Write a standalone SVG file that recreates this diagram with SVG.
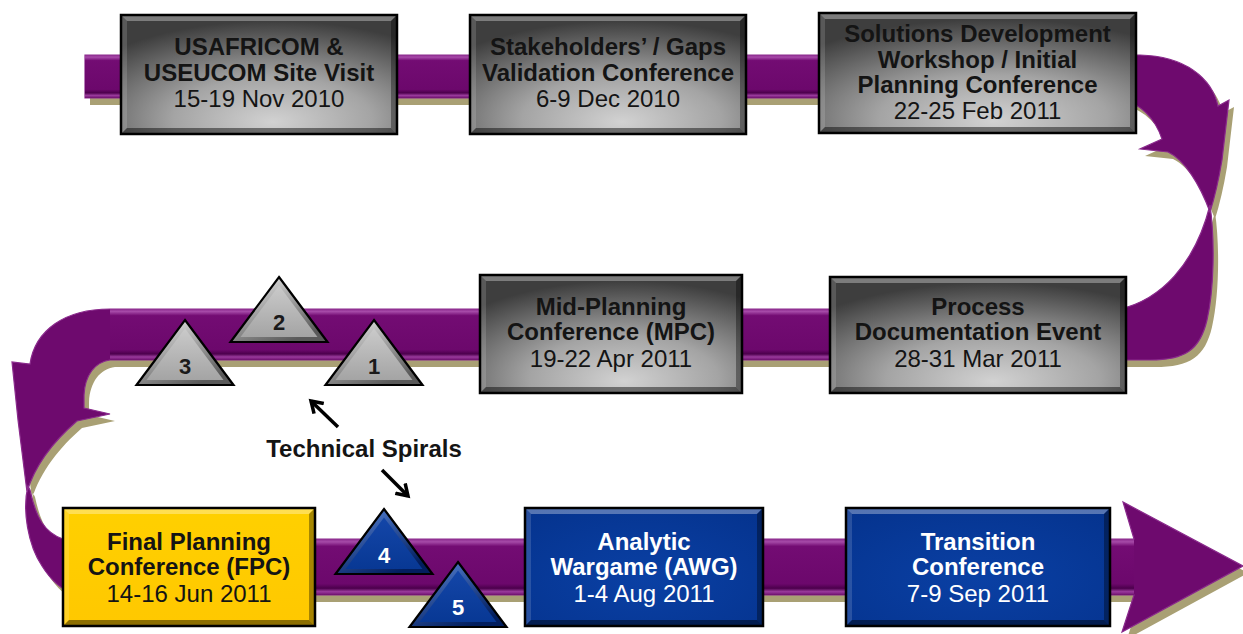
<svg xmlns="http://www.w3.org/2000/svg" xmlns:xlink="http://www.w3.org/1999/xlink" width="1243" height="634" viewBox="0 0 1243 634">
<defs>
<style>
.t{font-family:"Liberation Sans",Arial,sans-serif;font-size:24px;text-anchor:middle;fill:#141414}
.b{font-weight:bold}
.num{font-family:"Liberation Sans",Arial,sans-serif;font-size:22px;font-weight:bold;text-anchor:middle;fill:#1a1a1a}
.w{fill:#ffffff}
.frame{fill:none;stroke:#000;stroke-width:2.5}
.bt{fill:#fff;fill-opacity:.32}
.bl{fill:#fff;fill-opacity:.14}
.br{fill:#000;fill-opacity:.35}
.bb{fill:#000;fill-opacity:.45}
.ann{stroke:#000;stroke-width:3.5;fill:none}
</style>
<radialGradient id="gGray" cx="55%" cy="85%" r="80%" fx="55%" fy="90%">
<stop offset="0" stop-color="#d2d2d2"/>
<stop offset="0.45" stop-color="#a4a4a4"/>
<stop offset="1" stop-color="#3e3e3e"/>
</radialGradient>
<linearGradient id="gYellow" x1="0" y1="0" x2="0" y2="1">
<stop offset="0" stop-color="#ffd000"/>
<stop offset="1" stop-color="#ffc800"/>
</linearGradient>
<radialGradient id="gBlue" cx="50%" cy="60%" r="75%">
<stop offset="0" stop-color="#0a40a4"/>
<stop offset="1" stop-color="#05338e"/>
</radialGradient>
<linearGradient id="gBand" x1="0" y1="0" x2="0" y2="1">
<stop offset="0" stop-color="#8c2a8e"/>
<stop offset="0.05" stop-color="#a64aa8"/>
<stop offset="0.13" stop-color="#730c73"/>
<stop offset="0.8" stop-color="#6c086c"/>
<stop offset="0.88" stop-color="#4c004c"/>
<stop offset="0.94" stop-color="#9a3a9c"/>
<stop offset="1" stop-color="#6e106e"/>
</linearGradient>
<linearGradient id="gTriOutGray" x1="0" y1="0" x2="0.6" y2="1">
<stop offset="0" stop-color="#f2f2f2"/>
<stop offset="1" stop-color="#5a5a5a"/>
</linearGradient>
<linearGradient id="gTriInGray" x1="0" y1="0" x2="0" y2="1">
<stop offset="0" stop-color="#cacaca"/>
<stop offset="1" stop-color="#a4a4a4"/>
</linearGradient>
<linearGradient id="gTriOutBlue" x1="0" y1="0" x2="0.6" y2="1">
<stop offset="0" stop-color="#5a88dc"/>
<stop offset="1" stop-color="#021e5e"/>
</linearGradient>
<linearGradient id="gTriInBlue" x1="0" y1="0" x2="0" y2="1">
<stop offset="0" stop-color="#1446a8"/>
<stop offset="1" stop-color="#083894"/>
</linearGradient>
<g id="triGray">
<polygon points="0,0 48.5,65 -48.5,65" fill="url(#gTriOutGray)"/>
<polygon points="0,8.4 38.5,60 -38.5,60" fill="url(#gTriInGray)"/>
<polygon points="0,0 48.5,65 -48.5,65" fill="none" stroke="#000" stroke-width="2.2"/>
</g>
<g id="triBlue">
<polygon points="0,0 48.5,65 -48.5,65" fill="url(#gTriOutBlue)"/>
<polygon points="0,8.4 38.5,60 -38.5,60" fill="url(#gTriInBlue)"/>
<polygon points="0,0 48.5,65 -48.5,65" fill="none" stroke="#000" stroke-width="2.2"/>
</g>
<marker id="vhead" markerUnits="userSpaceOnUse" markerWidth="20" markerHeight="20" refX="12" refY="8" orient="auto" viewBox="0 0 20 16">
<path d="M1,1 L12,8 L1,15" fill="none" stroke="#000" stroke-width="3.5"/>
</marker>
</defs>

<g id="ribbon">
<path transform="translate(5,7)" fill="#a9a074" d="M85 55 L1140 55 C1185 56 1212 78 1218 106 L1229 100 L1222 160 Q1217 190 1210 212 C1200 185 1185 160 1168 152 L1140 149 L1162 139 C1155 118 1140 104 1120 98 L85 98 Z M1210 205 C1215 240 1214 290 1207 320 C1200 350 1185 360 1150 360 L110 360 C95 362 85 375 84 395 L84 408 L110 414 L77 421 C55 440 35 465 27 492 L18 420 L12 362 L30 364 C35 330 65 309 110 309 L1120 309 C1160 300 1195 265 1210 205 Z M28 486 C22 510 28 545 42 566 C52 582 62 590 75 595 L1134 595 L1122 632 L1243 566 L1123 502 L1134 539 L63 539 C45 533 36 518 30 490 Z"/>
<path fill="#6e0a6e" stroke="#8a2a8c" stroke-width="1.2" d="M85 55 L1140 55 C1185 56 1212 78 1218 106 L1229 100 L1222 160 Q1217 190 1210 212 C1200 185 1185 160 1168 152 L1140 149 L1162 139 C1155 118 1140 104 1120 98 L85 98 Z M1210 205 C1215 240 1214 290 1207 320 C1200 350 1185 360 1150 360 L110 360 C95 362 85 375 84 395 L84 408 L110 414 L77 421 C55 440 35 465 27 492 L18 420 L12 362 L30 364 C35 330 65 309 110 309 L1120 309 C1160 300 1195 265 1210 205 Z M28 486 C22 510 28 545 42 566 C52 582 62 590 75 595 L1134 595 L1122 632 L1243 566 L1123 502 L1134 539 L63 539 C45 533 36 518 30 490 Z"/>
<rect x="85" y="55" width="1051" height="43" fill="url(#gBand)"/>
<rect x="110" y="309" width="1016" height="51" fill="url(#gBand)"/>
<rect x="63" y="539" width="1071" height="56" fill="url(#gBand)"/>
</g>

<g id="box1" transform="translate(121,15)">
<rect width="276" height="119" fill="url(#gGray)"/>
<polygon class="bt" points="0,0 276,0 270,6 6,6"/><polygon class="bl" points="0,0 6,6 6,113 0,119"/><polygon class="br" points="276,0 276,119 270,113 270,6"/><polygon class="bb" points="0,119 6,113 270,113 276,119"/>
<rect class="frame" width="276" height="119"/>
<text class="t b" x="138" y="40">USAFRICOM &amp;</text>
<text class="t b" x="138" y="66">USEUCOM Site Visit</text>
<text class="t" x="138" y="92">15-19 Nov 2010</text>
</g>

<g id="box2" transform="translate(470,15)">
<rect width="276" height="119" fill="url(#gGray)"/>
<polygon class="bt" points="0,0 276,0 270,6 6,6"/><polygon class="bl" points="0,0 6,6 6,113 0,119"/><polygon class="br" points="276,0 276,119 270,113 270,6"/><polygon class="bb" points="0,119 6,113 270,113 276,119"/>
<rect class="frame" width="276" height="119"/>
<text class="t b" x="138" y="40">Stakeholders’ / Gaps</text>
<text class="t b" x="138" y="66">Validation Conference</text>
<text class="t" x="138" y="92">6-9 Dec 2010</text>
</g>

<g id="box3" transform="translate(819,13)">
<rect width="317" height="120" fill="url(#gGray)"/>
<polygon class="bt" points="0,0 317,0 311,6 6,6"/><polygon class="bl" points="0,0 6,6 6,114 0,120"/><polygon class="br" points="317,0 317,120 311,114 311,6"/><polygon class="bb" points="0,120 6,114 311,114 317,120"/>
<rect class="frame" width="317" height="120"/>
<text class="t b" x="158.5" y="28.5">Solutions Development</text>
<text class="t b" x="158.5" y="54.5">Workshop / Initial</text>
<text class="t b" x="158.5" y="79.5">Planning Conference</text>
<text class="t" x="158.5" y="105.5">22-25 Feb 2011</text>
</g>

<g id="box4" transform="translate(480,275)">
<rect width="262" height="118" fill="url(#gGray)"/>
<polygon class="bt" points="0,0 262,0 256,6 6,6"/><polygon class="bl" points="0,0 6,6 6,112 0,118"/><polygon class="br" points="262,0 262,118 256,112 256,6"/><polygon class="bb" points="0,118 6,112 256,112 262,118"/>
<rect class="frame" width="262" height="118"/>
<text class="t b" x="131" y="39.5">Mid-Planning</text>
<text class="t b" x="131" y="64.5">Conference (MPC)</text>
<text class="t" x="131" y="91.5">19-22 Apr 2011</text>
</g>

<g id="box5" transform="translate(830,277)">
<rect width="296" height="116" fill="url(#gGray)"/>
<polygon class="bt" points="0,0 296,0 290,6 6,6"/><polygon class="bl" points="0,0 6,6 6,110 0,116"/><polygon class="br" points="296,0 296,116 290,110 290,6"/><polygon class="bb" points="0,116 6,110 290,110 296,116"/>
<rect class="frame" width="296" height="116"/>
<text class="t b" x="148" y="37.5">Process</text>
<text class="t b" x="148" y="62.5">Documentation Event</text>
<text class="t" x="148" y="89.5">28-31 Mar 2011</text>
</g>

<g id="box6" transform="translate(63,508)">
<rect width="252" height="118" fill="url(#gYellow)"/>
<polygon class="bt" points="0,0 252,0 246,6 6,6"/><polygon class="bl" points="0,0 6,6 6,112 0,118"/><polygon class="br" points="252,0 252,118 246,112 246,6"/><polygon class="bb" points="0,118 6,112 246,112 252,118"/>
<rect class="frame" width="252" height="118"/>
<text class="t b" x="126" y="41.5">Final Planning</text>
<text class="t b" x="126" y="66.5">Conference (FPC)</text>
<text class="t" x="126" y="93.5">14-16 Jun 2011</text>
</g>

<g id="box7" transform="translate(525,508)">
<rect width="238" height="118" fill="url(#gBlue)"/>
<polygon class="bt" points="0,0 238,0 232,6 6,6"/><polygon class="bl" points="0,0 6,6 6,112 0,118"/><polygon class="br" points="238,0 238,118 232,112 232,6"/><polygon class="bb" points="0,118 6,112 232,112 238,118"/>
<rect class="frame" width="238" height="118"/>
<text class="t b w" x="119" y="41.5">Analytic</text>
<text class="t b w" x="119" y="66.5">Wargame (AWG)</text>
<text class="t w" x="119" y="93.5">1-4 Aug 2011</text>
</g>

<g id="box8" transform="translate(846,508)">
<rect width="264" height="118" fill="url(#gBlue)"/>
<polygon class="bt" points="0,0 264,0 258,6 6,6"/><polygon class="bl" points="0,0 6,6 6,112 0,118"/><polygon class="br" points="264,0 264,118 258,112 258,6"/><polygon class="bb" points="0,118 6,112 258,112 264,118"/>
<rect class="frame" width="264" height="118"/>
<text class="t b w" x="132" y="41.5">Transition</text>
<text class="t b w" x="132" y="66.5">Conference</text>
<text class="t w" x="132" y="93.5">7-9 Sep 2011</text>
</g>

<g id="tri1" transform="translate(374,320)"><use href="#triGray" xlink:href="#triGray"/><text class="num" x="0" y="54">1</text></g>
<g id="tri2" transform="translate(279,277)"><use href="#triGray" xlink:href="#triGray"/><text class="num" x="0" y="53">2</text></g>
<g id="tri3" transform="translate(185,320)"><use href="#triGray" xlink:href="#triGray"/><text class="num" x="0" y="54">3</text></g>
<g id="tri4" transform="translate(384,509)"><use href="#triBlue" xlink:href="#triBlue"/><text class="num w" x="0" y="54">4</text></g>
<g id="tri5" transform="translate(458,562)"><use href="#triBlue" xlink:href="#triBlue"/><text class="num w" x="0" y="53">5</text></g>

<g id="label">
<text class="t b" x="364" y="457">Technical Spirals</text>
</g>

<g id="connectors">
<line class="ann" x1="338" y1="427" x2="311" y2="401" marker-end="url(#vhead)"/>
<line class="ann" x1="382" y1="470" x2="408" y2="496" marker-end="url(#vhead)"/>
</g>
</svg>
